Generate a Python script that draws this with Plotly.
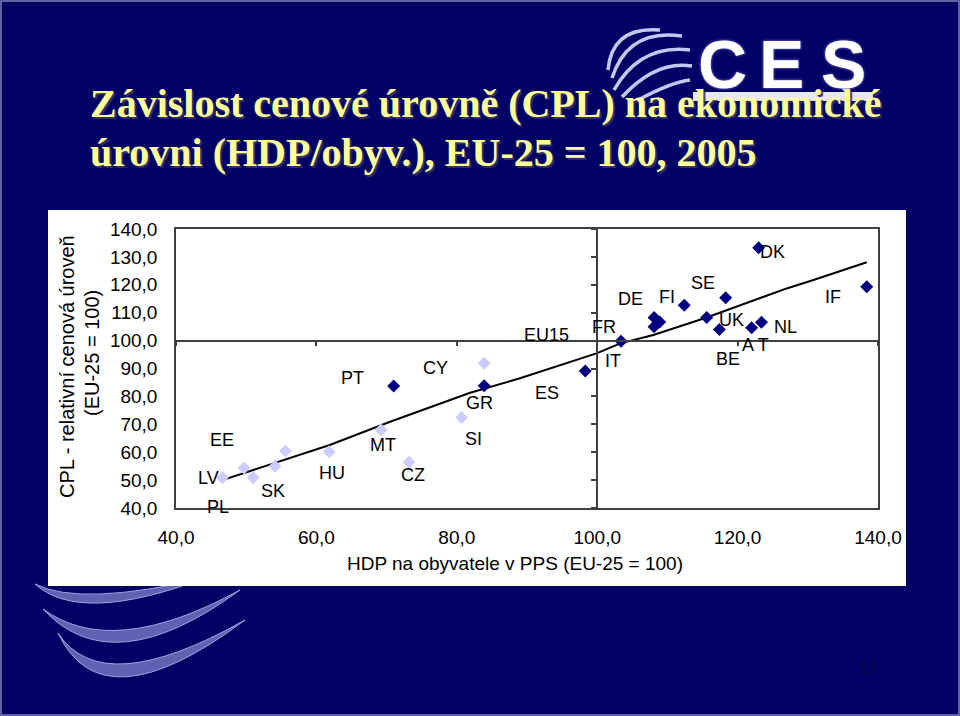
import plotly.graph_objects as go

# ---------------- data ----------------
new_gdp = [46.6, 49.7, 51.0, 54.1, 55.6, 61.8, 69.2, 73.2, 80.7, 83.9]
new_cpl = [50.8, 54.3, 50.9, 55.0, 60.4, 60.2, 68.0, 56.4, 72.4, 91.9]

old_gdp = [71.0, 83.9, 98.3, 103.4, 108.1, 108.9, 108.1, 112.4, 115.6, 118.3, 117.4, 122.0, 123.4, 123.0, 138.4]
old_cpl = [83.7, 83.8, 89.1, 99.8, 108.3, 106.7, 105.0, 112.7, 108.3, 115.4, 104.0, 104.6, 106.6, 133.3, 119.3]

trend_gdp = [46.6, 61.9, 70.5, 81.9, 89.0, 99.9, 103.3, 108.0, 115.6, 127.0, 130.8, 138.4]
trend_cpl = [50.0, 62.6, 70.9, 81.3, 86.5, 95.4, 99.0, 102.0, 108.3, 118.7, 121.7, 128.1]

label_text = ["EE", "LV", "PL", "SK", "HU", "PT", "MT", "CZ", "CY", "GR", "SI",
              "EU15", "ES", "FR", "IT", "DE", "FI", "SE", "UK", "BE", "A T", "NL", "DK", "IF"]
label_gdp = [46.5, 44.6, 46.0, 53.8, 62.2, 65.1, 69.5, 73.8, 77.0, 83.2, 82.4,
             92.8, 92.8, 100.9, 102.3, 104.7, 109.9, 115.1, 119.1, 118.6, 122.5, 126.8, 125.0, 133.6]
label_cpl = [64.3, 50.6, 40.5, 46.2, 52.4, 86.7, 62.6, 51.8, 90.3, 77.7, 64.6,
             102.0, 81.3, 104.8, 92.8, 115.0, 115.7, 120.8, 107.4, 93.3, 98.4, 105.0, 131.9, 115.5]

x_ticks = [40, 60, 80, 100, 120, 140]
y_ticks = [40, 50, 60, 70, 80, 90, 100, 110, 120, 130, 140]
x_ticktext = ["40,0", "60,0", "80,0", "100,0", "120,0", "140,0"]
y_ticktext = ["40,0", "50,0", "60,0", "70,0", "80,0", "90,0", "100,0", "110,0", "120,0", "130,0", "140,0"]

title_line1 = "Závislost cenové úrovně (CPL) na ekonomické"
title_line2 = "úrovni (HDP/obyv.), EU-25 = 100, 2005"
x_title = "HDP na obyvatele v PPS (EU-25 = 100)"
y_title1 = "CPL - relativní cenová úroveň"
y_title2 = "(EU-25 = 100)"

# ---------------- layout helpers ----------------
W, H = 960, 716
NAVY = "#020266"
FRAME = "#404040"


def px(x):
    return x / W


def py(y):
    return 1 - y / H


XD = [px(176), px(878)]
YD = [py(508), py(229)]
X_CROSS = XD[0] + (100 - 40) / 100 * (XD[1] - XD[0])
Y_CROSS = YD[0] + (100 - 40) / 100 * (YD[1] - YD[0])

fig = go.Figure()

fig.add_trace(go.Scatter(
    x=trend_gdp, y=trend_cpl, mode="lines",
    line=dict(color="black", width=2), hoverinfo="skip", showlegend=False))
fig.add_trace(go.Scatter(
    x=new_gdp, y=new_cpl, mode="markers",
    marker=dict(symbol="diamond", size=10, color="#ccccff", line=dict(width=0)),
    showlegend=False))
fig.add_trace(go.Scatter(
    x=old_gdp, y=old_cpl, mode="markers",
    marker=dict(symbol="diamond", size=10, color="#000080", line=dict(width=0)),
    showlegend=False))
# carrier for crossing axes
fig.add_trace(go.Scatter(x=[100], y=[100], xaxis="x2", yaxis="y2", mode="markers",
                         marker=dict(opacity=0), hoverinfo="skip", showlegend=False))

annotations = []
for t, gx, gy in zip(label_text, label_gdp, label_cpl):
    annotations.append(dict(x=gx, y=gy, xref="x", yref="y", text=t, showarrow=False,
                            xanchor="center", yanchor="middle",
                            font=dict(family="Liberation Sans, Arial", size=18, color="black")))


def pap(x, y, text, font, **kw):
    d = dict(x=px(x), y=py(y), xref="paper", yref="paper", text=text, showarrow=False,
             xanchor="center", yanchor="middle", font=font)
    d.update(kw)
    return d


title_font = dict(family="Liberation Serif, Times New Roman", size=40, color="#ffff99",
                  weight="bold", shadow="2px 2px 1px #333366")
sans = "Liberation Sans, Arial"
annotations += [
    pap(88, 104, title_line1, title_font, xanchor="left"),
    pap(88, 152, title_line2, title_font, xanchor="left"),
    pap(515, 563, x_title, dict(family=sans, size=19, color="black")),
    pap(67, 367, y_title1, dict(family=sans, size=20, color="black"), textangle=-90),
    pap(92, 353, y_title2, dict(family=sans, size=20, color="black"), textangle=-90),
    pap(868, 667, "13", dict(family="Liberation Serif", size=18, color="#0a0a35")),
]
for letter, cx in zip(["C", "E", "S"], [722, 781, 843]):
    annotations.append(pap(cx, 64, letter,
                           dict(family=sans, size=68, color="white", weight="bold",
                                shadow="0px 0px 3px #8a8ad8")))


def path(points_cmds):
    out = []
    for cmd in points_cmds:
        if isinstance(cmd, str):
            out.append(cmd)
        else:
            out.append(f"{px(cmd[0]):.5f},{py(cmd[1]):.5f}")
    return " ".join(out)


shapes = []
# slide border
shapes.append(dict(type="rect", xref="paper", yref="paper", x0=px(1), x1=px(959), y0=py(715), y1=py(1),
                   line=dict(color="#8080b8", width=1.5), layer="below"))
# swooshes bottom-left
for p0, p1, cl, cu in [((35, 584), (205, 578), (80, 625), (80, 607)),
                       ((43, 609), (240, 590), (112, 684), (112, 660)),
                       ((58, 633), (245, 620), (102, 727), (102, 701))]:
    d = path(["M", p0, "Q", cl, p1, "Q", cu, p0, "Z"])
    shapes.append(dict(type="path", xref="paper", yref="paper", path=d,
                       fillcolor="#5d62b3", line=dict(color="#a0a4e0", width=1), layer="below"))
# globe of the logo
for a, c, b in [((612, 78), (628, 28), (682, 36)),
                ((614, 90), (640, 44), (690, 50)),
                ((622, 97), (656, 60), (692, 66)),
                ((640, 99), (672, 82), (690, 80)),
                ((608, 70), (612, 26), (660, 30))]:
    shapes.append(dict(type="path", xref="paper", yref="paper", path=path(["M", a, "Q", c, b]),
                       line=dict(color="#c4c8f0", width=3.5)))
# logo band
shapes.append(dict(type="rect", xref="paper", yref="paper", x0=px(693), x1=px(873), y0=py(101), y1=py(92),
                   fillcolor="#e8e8f4", line=dict(width=0)))
# white chart area
shapes.append(dict(type="rect", xref="paper", yref="paper", x0=px(48), x1=px(906), y0=py(586), y1=py(210),
                   fillcolor="white", line=dict(width=0), layer="below"))

axis_font = dict(family=sans, size=19, color="black")

fig.update_layout(
    template="none",
    width=W, height=H, margin=dict(l=0, r=0, t=0, b=0, pad=0, autoexpand=False),
    paper_bgcolor=NAVY, plot_bgcolor="white",
    showlegend=False,
    xaxis=dict(domain=XD, range=[40, 140], tickvals=x_ticks, ticktext=x_ticktext,
               showline=True, mirror=True, linecolor=FRAME, linewidth=1.5, automargin=False,
               ticks="", showgrid=False, zeroline=False, tickfont=axis_font,
               ticklabelstandoff=11),
    yaxis=dict(domain=YD, range=[40, 140], tickvals=y_ticks, ticktext=y_ticktext,
               showline=True, mirror=True, linecolor=FRAME, linewidth=1.5, automargin=False,
               ticks="", showgrid=False, zeroline=False, tickfont=axis_font,
               ticklabelstandoff=13),
    xaxis2=dict(overlaying="x", anchor="free", position=Y_CROSS, range=[40, 140], automargin=False,
                tickvals=x_ticks, showticklabels=False, ticks="outside", ticklen=5,
                tickcolor=FRAME, tickwidth=1.5, showline=True, linecolor=FRAME, linewidth=1.5,
                showgrid=False, zeroline=False, side="bottom"),
    yaxis2=dict(overlaying="y", anchor="free", position=X_CROSS, range=[40, 140], automargin=False,
                tickvals=y_ticks, showticklabels=False, ticks="outside", ticklen=5,
                tickcolor=FRAME, tickwidth=1.5, showline=True, linecolor=FRAME, linewidth=1.5,
                showgrid=False, zeroline=False, side="left"),
    annotations=annotations,
    shapes=shapes,
)

fig.write_html("out.html", config={"displayModeBar": False},
               post_script="document.body.style.margin='0';document.body.style.overflow='hidden';")
